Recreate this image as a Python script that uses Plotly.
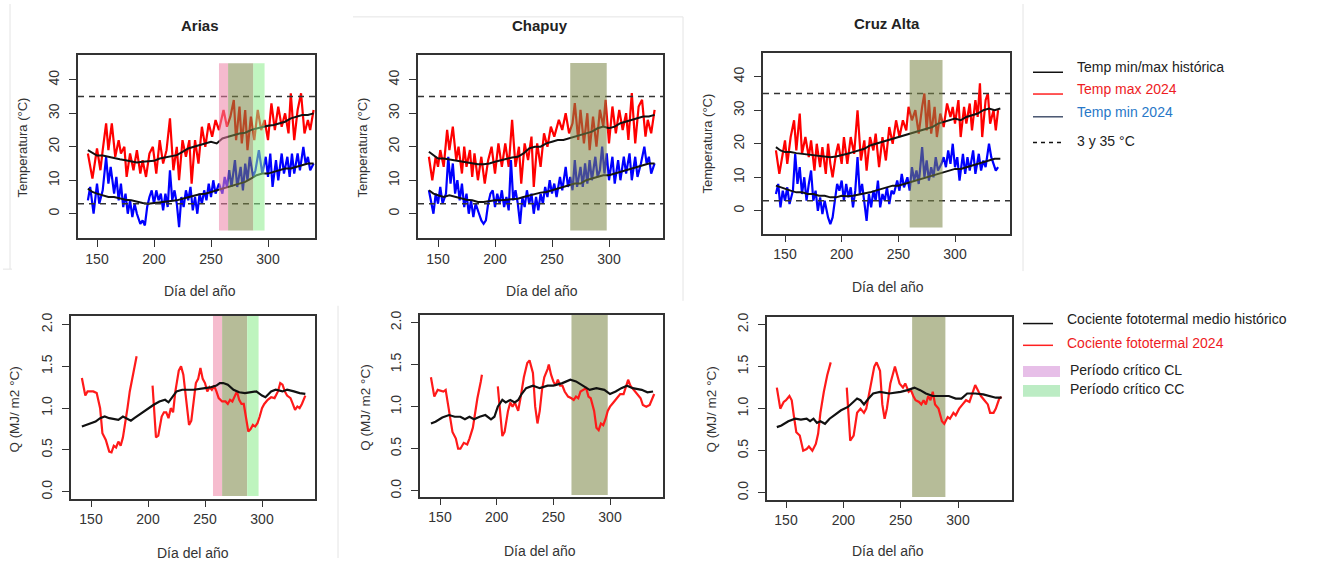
import plotly.graph_objects as go

W, H = 1330, 562
FONT = "Liberation Sans, Arial, sans-serif"

# ---------------- DATA ----------------
sites = ["Arias", "Chapuy", "Cruz Alta"]
# critical periods (day of year)
cl_start = [257, 266, 260]
cl_end = [287, 298, 289]
cc_start = [265, 266, 260]
cc_end = [297, 298, 289]

hist_days = [142, 146, 150, 155, 160, 165, 170, 175, 180, 185,
             190, 195, 200, 205, 210, 215, 220, 225, 230, 235,
             240, 245, 250, 255, 260, 265, 270, 275, 280, 285,
             290, 295, 300, 305, 310, 315, 320, 325, 330, 335, 340]

# ---- Arias ----
arias_hmax = [19, 18.3, 17.4, 17.4, 17, 16.5, 16.3, 16, 15.6, 15.3,
              15.5, 15.6, 15.8, 16.5, 16.8, 17.2, 17.5, 18.5, 19.5, 20,
              20.5, 21, 21.5, 21, 22.5, 23, 23.5, 24, 24.2, 25,
              25.5, 26, 26.3, 26.5, 27, 27.5, 28.5, 29, 29.5, 29.5, 30]
arias_hmin = [7.5, 6.5, 6, 5.5, 5, 5, 4.5, 4.2, 4, 3.5,
              3.2, 3, 3.2, 3.5, 3.7, 4, 4, 4.5, 5, 5.5,
              5.8, 6, 6.5, 7, 7.5, 8, 8.5, 9, 9.5, 10.5,
              11.5, 12, 12, 12.5, 13, 13.5, 13.5, 14, 14.5, 15, 15]
arias_tmax_days = [142, 146, 150, 153, 155, 158, 160, 163, 166, 169,
                   171, 174, 176, 179, 182, 185, 188, 190, 193, 196,
                   199, 202, 205, 208, 211, 214, 217, 220, 222, 225,
                   228, 231, 233, 236, 239, 242, 245, 248, 251, 254,
                   257, 261, 264, 267, 270, 272, 275, 277, 280, 282,
                   285, 288, 291, 294, 297, 300, 303, 306, 309, 312,
                   315, 318, 320, 323, 326, 329, 332, 335, 337, 340]
arias_tmax = [18, 10.5, 19.5, 13, 19, 27, 19, 27, 17, 22,
              18, 20, 11, 18, 13, 19, 12, 16, 11, 18,
              20, 12, 22, 15, 19, 28.5, 13, 20, 10, 22,
              17, 22, 9, 22, 15, 26, 20, 27, 23, 28,
              25, 31, 26, 29, 34, 22, 32, 21, 31, 19,
              29, 22, 31, 25, 28, 22, 33, 25, 32, 26,
              30, 24, 36, 22, 31, 36, 24, 28, 25, 31]
arias_tmin_days = [142, 144, 147, 150, 152, 155, 158, 160, 162, 165,
                   167, 169, 171, 173, 175, 177, 179, 181, 183, 185,
                   188, 190, 192, 194, 196, 198, 200, 202, 204, 206,
                   208, 210, 212, 214, 216, 218, 220, 222, 224, 226,
                   228, 230, 232, 234, 236, 238, 240, 242, 244, 246,
                   248, 250, 252, 254, 257, 260, 262, 264, 266, 268,
                   271, 273, 276, 278, 280, 282, 284, 287, 289, 292,
                   295, 298, 300, 302, 304, 307, 309, 312, 314, 317,
                   319, 321, 323, 326, 328, 331, 333, 335, 337, 340]
arias_tmin = [4, 8, 0, 9, 3, 7, 17, 9, 14, 6,
              11, 4, 9, 2, 6, 0, 4, -1, 3, 0,
              -3, -2, -3.5, 2, 5, 7, 3, 7, 4, 6,
              1, 6, 2, 13, 4, 7, 3, -4, 5, 2,
              7, 4, 8, 1, 5, 0, 6, 3, 7, 4,
              9, 5, 10, 6, 9, 6, 11, 8, 13, 8,
              16, 8, 14, 7, 15, 10, 17, 11, 13, 19,
              12, 17, 11, 18, 8, 16, 10, 18, 12, 17,
              11, 18, 12, 18, 13, 20, 15, 17, 13, 15]
arias_q_days = [142, 145, 147, 150, 152, 155, 158, 160, 163, 166,
                168, 170, 172, 174, 176, 178, 180, 182, 184, 186,
                188, 190, 197, 204, 207, 209, 212, 214, 216, 218,
                220, 222, 224, 227, 229, 231, 234, 236, 238, 240,
                242, 244, 246, 248, 250, 252, 254, 256, 258, 260,
                262, 265, 268, 270, 272, 274, 276, 278, 280, 282,
                284, 286, 288, 290, 292, 294, 296, 298, 300, 302,
                305, 308, 311, 314, 316, 318, 320, 322, 325, 327,
                329, 331, 333, 335, 338]
arias_q = [1.36, 1.15, 1.2, 1.2, 1.2, 1.18, 1.0, 0.7, 0.62, 0.48,
           0.47, 0.55, 0.53, 0.6, 0.55, 0.65, 0.8, 1.0, 1.2, 1.35,
           1.5, 1.62, None, 1.27, 0.65, 0.67, 0.9, 0.95, 0.95, 0.88,
           1.0, 0.95, 1.2, 1.45, 1.5, 1.4, 1.0, 0.8, 0.85, 1.1,
           1.3, 1.35, 1.48, 1.35, 1.3, 1.2, 1.25, 1.22, 1.27, 1.2,
           1.12, 1.08, 1.08, 1.05, 1.1, 1.08, 1.15, 1.2, 1.1, 1.05,
           1.05, 0.9, 0.72, 0.75, 0.8, 0.78, 0.82, 0.9, 1.0, 1.05,
           1.1, 1.13, 1.12, 1.2, 1.3, 1.28, 1.2, 1.15, 1.12, 1.05,
           0.98, 1.02, 1.0, 1.05, 1.15]
arias_qh_days = [142, 146, 150, 154, 158, 162, 166, 170, 174, 178,
                 182, 185, 188, 192, 196, 200, 205, 210, 215, 218,
                 221, 225, 230, 240, 250, 255, 260, 263, 266, 270,
                 275, 280, 285, 290, 295, 300, 303, 308, 312, 318,
                 322, 328, 333, 338]
arias_qh = [0.78, 0.8, 0.82, 0.84, 0.88, 0.9, 0.88, 0.87, 0.86, 0.9,
            0.87, 0.85, 0.88, 0.92, 0.95, 1.0, 1.04, 1.08, 1.1, 1.07,
            1.12, 1.2, 1.22, 1.22, 1.24, 1.25, 1.27, 1.3, 1.3, 1.28,
            1.22, 1.19, 1.18, 1.19, 1.2, 1.15, 1.13, 1.2, 1.22, 1.2,
            1.22, 1.2, 1.18, 1.17]

# ---- Chapuy ----
chapuy_hmax = [18.5, 17.5, 16.5, 16.5, 16.2, 16, 15.8, 15.3, 15, 14.8,
               14.8, 15, 15.5, 16, 16.5, 16.8, 17, 18, 19.5, 20,
               20, 21, 21.5, 22, 22, 22.5, 23, 23.5, 24, 24.5,
               25.5, 26, 25.5, 26, 27, 27.5, 28, 28.5, 29, 29, 29.5]
chapuy_hmin = [7, 6, 5.5, 5, 5.5, 5, 4.5, 4.2, 4, 3.5,
               3.5, 3.8, 4, 4, 4.2, 4.5, 4.5, 5, 5.5, 6,
               6.3, 6.5, 7, 7.5, 8, 8.5, 9, 9, 10, 10.5,
               11, 11.5, 11.5, 12, 12.5, 13, 13.5, 14, 14.5, 15, 15]
chapuy_tmax_days = [142, 145, 148, 150, 152, 155, 158, 160, 163, 166,
                    168, 171, 173, 175, 178, 180, 182, 185, 188, 191,
                    194, 197, 200, 203, 206, 209, 212, 215, 218, 221,
                    223, 226, 229, 232, 234, 237, 240, 243, 246, 249,
                    252, 256, 259, 262, 265, 268, 270, 273, 275, 278,
                    281, 283, 286, 289, 292, 295, 297, 300, 303, 306,
                    309, 312, 315, 317, 320, 323, 326, 329, 332, 334,
                    337, 340]
chapuy_tmax = [17, 10, 17, 14, 19, 14, 25, 19, 26, 16,
               20, 12, 20, 14, 19, 11, 18, 10, 17, 9,
               16, 20, 12, 21, 14, 21, 14, 28, 14, 20,
               9, 21, 16, 23, 8, 21, 14, 24, 20, 26,
               23, 28, 25, 30, 24, 27, 33, 22, 31, 21,
               30, 19, 29, 20, 31, 26, 34, 21, 32, 24,
               31, 25, 30, 22, 36, 21, 32, 34, 23, 28,
               24, 31]
chapuy_tmin_days = [142, 144, 146, 148, 150, 152, 154, 157, 159, 161,
                    163, 165, 167, 169, 171, 173, 175, 177, 179, 181,
                    183, 186, 188, 190, 192, 194, 196, 198, 200, 202,
                    204, 206, 208, 210, 212, 214, 216, 218, 220, 222,
                    224, 226, 228, 230, 232, 234, 236, 238, 240, 242,
                    244, 246, 248, 250, 252, 254, 257, 259, 262, 264,
                    266, 268, 270, 272, 275, 277, 279, 281, 283, 285,
                    288, 290, 292, 294, 296, 298, 300, 303, 305, 308,
                    310, 313, 315, 318, 320, 323, 325, 328, 331, 333,
                    335, 337, 340]
chapuy_tmin = [7, 4, 0, 6, 3, 8, 3, 6, 17, 9,
               15, 6, 10, 4, 9, 2, 6, 0, 4, -1,
               3, 0, -2, -3, -2, 3, 6, 7, 2, 6,
               3, 7, 2, 5, 1, 16, 4, 7, 3, -3,
               5, 2, 7, 3, 6, 0, 5, 1, 6, 3,
               8, 5, 10, 6, 9, 5, 11, 7, 14, 8,
               11, 7, 16, 8, 14, 8, 15, 9, 16, 10,
               17, 11, 13, 20, 12, 18, 10, 17, 9, 16,
               10, 17, 12, 18, 10, 17, 11, 15, 20, 15,
               17, 12, 15]
chapuy_q_days = [142, 145, 148, 153, 155, 158, 161, 164, 166, 168,
                 171, 174, 176, 179, 181, 183, 186, 187, 194, 201,
                 205, 207, 210, 212, 214, 216, 219, 221, 224, 227,
                 229, 232, 234, 236, 238, 240, 242, 245, 246, 248,
                 250, 252, 254, 256, 258, 260, 263, 266, 268, 270,
                 272, 274, 277, 279, 281, 283, 286, 288, 290, 292,
                 294, 296, 298, 300, 303, 306, 309, 312, 314, 316,
                 318, 321, 324, 327, 329, 332, 335, 339]
chapuy_q = [1.35, 1.12, 1.2, 1.18, 1.2, 0.95, 0.7, 0.62, 0.5, 0.5,
            0.57, 0.55, 0.62, 0.75, 0.95, 1.1, 1.3, 1.38, None, 1.24,
            0.65, 0.7, 0.95, 1.05, 1.0, 1.05, 0.95, 1.1, 1.35, 1.52,
            1.55, 1.4, 1.0, 0.8, 0.95, 1.2, 1.35, 1.45, 1.5, 1.38,
            1.3, 1.25, 1.32, 1.25, 1.25, 1.18, 1.12, 1.1, 1.08, 1.12,
            1.1, 1.18, 1.2, 1.22, 1.12, 1.1, 0.95, 0.75, 0.72, 0.8,
            0.78, 0.85, 0.95, 1.0, 1.05, 1.1, 1.15, 1.15, 1.25, 1.32,
            1.25, 1.2, 1.15, 1.1, 1.02, 1.0, 1.02, 1.15]
chapuy_qh_days = [142, 146, 152, 158, 163, 168, 172, 176, 180, 185,
                  190, 195, 198, 201, 205, 208, 212, 216, 219, 222,
                  226, 232, 238, 245, 250, 258, 265, 270, 276, 282,
                  288, 295, 300, 305, 310, 315, 320, 328, 333, 338]
chapuy_qh = [0.8, 0.82, 0.87, 0.9, 0.88, 0.88, 0.85, 0.88, 0.85, 0.88,
             0.9, 0.85, 0.88, 1.0, 1.08, 1.05, 1.08, 1.05, 1.08, 1.15,
             1.22, 1.25, 1.22, 1.25, 1.25, 1.28, 1.32, 1.3, 1.25, 1.2,
             1.22, 1.2, 1.15, 1.18, 1.22, 1.25, 1.22, 1.2, 1.17, 1.18]

# ---- Cruz Alta ----
cruz_hmax = [19, 18, 17.5, 17.5, 17.2, 17, 16.8, 16.5, 16.2, 16,
             16, 16.2, 16.5, 17, 17.5, 18, 18.5, 19.5, 20, 20.5,
             21, 21.5, 22, 22.5, 23, 23.5, 24, 24.5, 25, 26,
             26.5, 27, 27.5, 27, 28, 28.5, 29, 30, 30.5, 30, 30.5]
cruz_hmin = [7.5, 7, 6.5, 6, 5.5, 5.5, 5, 5, 4.5, 4.5,
             4, 4, 4.5, 4.3, 4.5, 4.8, 5, 5.5, 6, 6.5,
             7, 7.5, 7.5, 8, 8.5, 9, 9.5, 10, 10.5, 11,
             11.5, 12, 12.5, 12.5, 13, 13.5, 14, 14.5, 15, 15.5, 15.5]
cruz_tmax_days = [142, 145, 148, 150, 152, 155, 158, 160, 163, 165,
                  168, 171, 173, 176, 178, 181, 183, 186, 188, 190,
                  192, 195, 197, 200, 202, 205, 208, 211, 214, 217,
                  220, 222, 225, 228, 230, 233, 236, 239, 242, 245,
                  248, 251, 254, 257, 259, 262, 265, 268, 271, 273,
                  275, 277, 279, 282, 284, 287, 290, 293, 296, 298,
                  300, 303, 305, 308, 310, 313, 315, 318, 320, 322,
                  324, 327, 329, 331, 334, 336, 338]
cruz_tmax = [18, 11, 17, 21, 14, 22, 27, 18, 29, 17,
             22, 16, 21, 12, 20, 13, 19, 11, 20, 14,
             10, 17, 20, 14, 22, 14, 22, 17, 30, 15,
             21, 12, 22, 18, 23, 13, 22, 15, 25, 20,
             27, 22, 27, 24, 31, 27, 30, 23, 31, 35,
             24, 33, 23, 31, 22, 29, 25, 32, 28, 31,
             26, 33, 22, 31, 26, 32, 24, 33, 28, 38,
             22, 33, 35, 26, 30, 24, 30]
cruz_tmin_days = [142, 144, 146, 148, 150, 152, 154, 157, 159, 161,
                  163, 165, 167, 169, 171, 173, 175, 177, 179, 181,
                  183, 185, 188, 190, 192, 194, 196, 198, 200, 202,
                  204, 206, 208, 210, 212, 214, 216, 218, 220, 222,
                  224, 226, 228, 230, 232, 234, 236, 238, 240, 242,
                  244, 246, 249, 251, 253, 255, 258, 260, 262, 264,
                  266, 268, 271, 273, 275, 277, 279, 281, 283, 285,
                  288, 290, 292, 294, 296, 298, 300, 302, 304, 307,
                  309, 311, 313, 316, 318, 321, 323, 325, 327, 330,
                  332, 334, 336, 338]
cruz_tmin = [5, 8, 1, 6, 3, 7, 2, 6, 17, 8,
             13, 5, 10, 3, 8, 12, 3, 6, 0, 4,
             -1, 3, -2, -4, -2, 4, 8, 6, 9, 3,
             8, 4, 7, 1, 6, 16, 5, 8, 2, -3,
             5, 1, 6, 3, 9, 1, 5, 3, 7, 2,
             6, 5, 9, 6, 11, 7, 10, 6, 13, 9,
             12, 8, 19, 10, 15, 9, 13, 10, 16, 12,
             14, 16, 13, 18, 14, 20, 13, 16, 9, 17,
             11, 16, 12, 18, 11, 17, 12, 15, 13, 20,
             16, 14, 12, 13]
cruz_q_days = [142, 145, 148, 150, 153, 155, 157, 159, 162, 165,
               168, 170, 173, 176, 178, 180, 183, 186, 189, 196,
               203, 206, 209, 212, 215, 218, 220, 223, 227, 229,
               232, 234, 236, 238, 241, 243, 245, 247, 249, 252,
               254, 257, 259, 261, 263, 266, 268, 270, 272, 274,
               276, 278, 280, 283, 286, 288, 291, 293, 296, 298,
               301, 304, 307, 310, 313, 315, 318, 320, 323, 326,
               328, 331, 333, 336, 338]
cruz_q = [1.25, 1.0, 1.08, 1.1, 1.15, 1.1, 0.9, 0.72, 0.68, 0.5,
          0.52, 0.55, 0.5, 0.58, 0.7, 0.95, 1.2, 1.4, 1.55, None,
          1.25, 0.62, 0.68, 0.95, 1.0, 0.95, 1.0, 1.2, 1.5, 1.55,
          1.45, 1.05, 0.88, 1.0, 1.3, 1.4, 1.5, 1.4, 1.3, 1.25,
          1.3, 1.2, 1.22, 1.15, 1.1, 1.08, 1.05, 1.1, 1.05, 1.15,
          1.1, 1.2, 1.05, 1.0, 0.85, 0.82, 0.9, 0.88, 0.95, 0.92,
          1.0, 1.05, 1.1, 1.08, 1.2, 1.28, 1.2, 1.15, 1.1, 1.05,
          0.95, 0.95, 1.0, 1.12, 1.14]
cruz_qh_days = [142, 146, 152, 158, 163, 168, 171, 174, 177, 180,
                184, 188, 192, 198, 204, 208, 212, 215, 218, 222,
                226, 232, 240, 250, 256, 262, 267, 272, 278, 285,
                292, 298, 303, 308, 315, 322, 328, 333, 338]
cruz_qh = [0.78, 0.8, 0.85, 0.88, 0.87, 0.88, 0.85, 0.88, 0.83, 0.85,
           0.82, 0.88, 0.92, 0.98, 1.02, 1.07, 1.12, 1.1, 1.05, 1.12,
           1.18, 1.2, 1.18, 1.2, 1.22, 1.25, 1.22, 1.18, 1.15, 1.15,
           1.15, 1.12, 1.12, 1.18, 1.18, 1.17, 1.15, 1.13, 1.13]

x_ticks = [150, 200, 250, 300]
t_ticks = [0, 10, 20, 30, 40]
q_ticks = [0, 0.5, 1.0, 1.5, 2.0]
q_ticktext = ["0.0", "0.5", "1.0", "1.5", "2.0"]
thresholds = [3, 35]

temp_data = [
    (arias_tmax_days, arias_tmax, arias_tmin_days, arias_tmin, arias_hmax, arias_hmin),
    (chapuy_tmax_days, chapuy_tmax, chapuy_tmin_days, chapuy_tmin, chapuy_hmax, chapuy_hmin),
    (cruz_tmax_days, cruz_tmax, cruz_tmin_days, cruz_tmin, cruz_hmax, cruz_hmin),
]
q_data = [
    (arias_q_days, arias_q, arias_qh_days, arias_qh),
    (chapuy_q_days, chapuy_q, chapuy_qh_days, chapuy_qh),
    (cruz_q_days, cruz_q, cruz_qh_days, cruz_qh),
]

# ---------------- LAYOUT GEOMETRY (pixels) ----------------
temp_geo = [
    dict(box=(78, 52, 315, 237), xc=(97, 268), yc=(212, 76.7)),
    dict(box=(418, 52, 663, 237), xc=(438, 609), yc=(212, 76.5)),
    dict(box=(763, 50, 1010, 232), xc=(785, 955), yc=(209, 73.5)),
]
q_geo = [
    dict(box=(71, 315, 315, 500), xc=(91, 262), yc=(493, 324)),
    dict(box=(420, 314, 663, 498), xc=(440, 610), yc=(492, 322)),
    dict(box=(767, 316, 1012, 501), xc=(786, 958), yc=(494, 324)),
]


def lin_range(p_lo, p_hi, va, pa, vb, pb):
    s = (pb - pa) / (vb - va)
    return [va + (p_lo - pa) / s, va + (p_hi - pa) / s]


def px(x):
    return x / W


def py(y):
    return 1 - y / H


fig = go.Figure()
layout_axes = {}
shapes = []
annotations = []

AX_COL = "#333333"
TICK_FONT = dict(family=FONT, size=14, color="#333333")


def add_axes(i, geo, ytick_vals, ytick_text, ylo, yhi):
    l, t, r, b = geo["box"]
    xr = lin_range(l, r, 150, geo["xc"][0], 300, geo["xc"][1])
    yr = lin_range(b, t, ylo, geo["yc"][0], yhi, geo["yc"][1])
    sfx = "" if i == 1 else str(i)
    layout_axes["xaxis" + sfx] = dict(
        domain=[px(l), px(r)], range=xr, anchor="y" + sfx,
        showline=True, mirror=True, linecolor=AX_COL, linewidth=1.5,
        ticks="outside", ticklen=7, tickwidth=1.3, tickcolor=AX_COL,
        tickvals=x_ticks, tickfont=TICK_FONT, showgrid=False, zeroline=False,
        ticklabelstandoff=0,
    )
    layout_axes["yaxis" + sfx] = dict(
        domain=[py(b), py(t)], range=yr, anchor="x" + sfx,
        showline=True, mirror=True, linecolor=AX_COL, linewidth=1.5,
        ticks="outside", ticklen=7, tickwidth=1.3, tickcolor=AX_COL,
        tickvals=ytick_vals, ticktext=ytick_text, tickangle=-90,
        tickfont=TICK_FONT, showgrid=False, zeroline=False,
        ticklabelstandoff=5,
    )
    return "x" + sfx, "y" + sfx


def add_periods(xa, ya, k, y0, y1, cols, layer):
    s_ov = max(cl_start[k], cc_start[k])
    e_ov = min(cl_end[k], cc_end[k])
    segs = []
    if cl_start[k] < s_ov:
        segs.append((cl_start[k], s_ov, cols["cl"]))
    if cc_start[k] < s_ov:
        segs.append((cc_start[k], s_ov, cols["cc"]))
    segs.append((s_ov, e_ov, cols["both"]))
    if cl_end[k] > e_ov:
        segs.append((e_ov, cl_end[k], cols["cl"]))
    if cc_end[k] > e_ov:
        segs.append((e_ov, cc_end[k], cols["cc"]))
    for a, bnd, c in segs:
        shapes.append(dict(type="rect", xref=xa, yref=ya, x0=a, x1=bnd, y0=y0, y1=y1,
                           fillcolor=c, line=dict(width=0), layer=layer))


over_cols = dict(cl="rgba(236,130,166,0.55)", cc="rgba(140,236,140,0.55)", both="rgba(122,133,70,0.55)")
under_cols = dict(cl="rgb(246,188,206)", cc="rgb(190,244,190)", both="rgb(182,188,152)")

# temperature panels
for k in range(3):
    xa, ya = add_axes(k + 1, temp_geo[k], t_ticks, [str(v) for v in t_ticks], 0, 40)
    dmx, vmx, dmn, vmn, hmx, hmn = temp_data[k]
    fig.add_trace(go.Scatter(x=dmx, y=vmx, mode="lines", line=dict(color="#ff0000", width=2.2),
                             xaxis=xa, yaxis=ya, showlegend=False))
    fig.add_trace(go.Scatter(x=dmn, y=vmn, mode="lines", line=dict(color="#0000ff", width=2.2),
                             xaxis=xa, yaxis=ya, showlegend=False))
    fig.add_trace(go.Scatter(x=hist_days, y=hmx, mode="lines", line=dict(color="#111111", width=2),
                             xaxis=xa, yaxis=ya, showlegend=False))
    fig.add_trace(go.Scatter(x=hist_days, y=hmn, mode="lines", line=dict(color="#111111", width=2),
                             xaxis=xa, yaxis=ya, showlegend=False))
    for th in thresholds:
        shapes.append(dict(type="line", xref=xa + " domain", yref=ya, x0=0, x1=1, y0=th, y1=th,
                           line=dict(color="#333333", width=1.5, dash="6px,5px")))
    add_periods(xa, ya, k, -5, 45, over_cols, "above")

# Q panels
for k in range(3):
    xa, ya = add_axes(k + 4, q_geo[k], q_ticks, q_ticktext, 0, 2)
    dq, vq, dqh, vqh = q_data[k]
    add_periods(xa, ya, k, -0.05, 2.2, under_cols, "below")
    fig.add_trace(go.Scatter(x=dq, y=vq, mode="lines", line=dict(color="#ff1a1a", width=2.2),
                             xaxis=xa, yaxis=ya, showlegend=False, connectgaps=False))
    fig.add_trace(go.Scatter(x=dqh, y=vqh, mode="lines", line=dict(color="#111111", width=2.2),
                             xaxis=xa, yaxis=ya, showlegend=False))


def text(x, y, s, size=14, color="#222222", bold=False, angle=0, xanchor="center"):
    if bold:
        s = "<b>" + s + "</b>"
    annotations.append(dict(x=px(x), y=py(y), xref="paper", yref="paper", text=s, showarrow=False,
                            xanchor=xanchor, yanchor="middle", textangle=angle,
                            font=dict(family=FONT, size=size, color=color)))


# titles
title_pos = [(200, 22), (540, 22), (887, 20)]
for k in range(3):
    text(title_pos[k][0], title_pos[k][1], sites[k], size=15, color="#222222", bold=True)

# axis titles
for x, y in [(200, 290), (542, 290), (888, 286), (193, 555), (540, 553), (888, 553)]:
    text(x, y, "Día del año", size=14, color="#333333")
for x, y in [(22, 145), (362, 145), (707, 141)]:
    text(x, y, "Temperatura (°C)", size=13, color="#333333", angle=-90)
for x, y in [(15, 410), (366, 408), (712, 410)]:
    text(x, y, "Q (MJ/ m2 °C)", size=13.5, color="#333333", angle=-90)

# legend (top)
leg1 = [
    (69, 64, "Temp min/max histórica", "#111111", "#222222", "solid"),
    (91, 86, "Temp max 2024", "#ff2020", "#ee1c24", "solid"),
    (114, 109, "Temp min 2024", "#47546f", "#2878c8", "solid"),
    (140, 138, "3 y 35 °C", "#111111", "#222222", "4px,4px"),
]
for ly, ty, s, lc, tc, dash in leg1:
    shapes.append(dict(type="line", xref="paper", yref="paper", x0=px(1033), x1=px(1063),
                       y0=py(ly), y1=py(ly), line=dict(color=lc, width=1.5, dash=dash)))
    text(1075, ty, s, size=14, color=tc, xanchor="left")

# legend (bottom)
leg2 = [
    (323, 318, "Cociente fototermal medio histórico", "#111111", "#222222"),
    (345, 343, "Cociente fototermal 2024", "#ff2020", "#ee1c24"),
]
for ly, ty, s, lc, tc in leg2:
    shapes.append(dict(type="line", xref="paper", yref="paper", x0=px(1023), x1=px(1053),
                       y0=py(ly), y1=py(ly), line=dict(color=lc, width=1.5)))
    text(1065, ty, s, size=14, color=tc, xanchor="left")
for y0, y1, c, s, ty in [(366, 377, "#e7bfe8", "Período crítico CL", 370),
                         (385, 397, "#bcecc4", "Período crítico CC", 389)]:
    shapes.append(dict(type="rect", xref="paper", yref="paper", x0=px(1023), x1=px(1060),
                       y0=py(y1), y1=py(y0), fillcolor=c, line=dict(width=0)))
    text(1068, ty, s, size=14, color="#222222", xanchor="left")

# faint panel frames (composite image borders)
for x0, y0, x1, y1 in [(10, 0, 10, 268), (3, 268, 12, 268), (353, 13, 683, 13), (683, 13, 683, 300),
                       (1023, 0, 1023, 270), (338, 305, 338, 560)]:
    shapes.append(dict(type="line", xref="paper", yref="paper", x0=px(x0), x1=px(x1),
                       y0=py(y0), y1=py(y1), line=dict(color="#e4e4e4", width=1)))

fig.update_layout(
    width=W, height=H, margin=dict(l=0, r=0, t=0, b=0),
    paper_bgcolor="white", plot_bgcolor="white",
    showlegend=False, shapes=shapes, annotations=annotations,
    font=dict(family=FONT),
    **layout_axes,
)

fig.write_html("out.html")
